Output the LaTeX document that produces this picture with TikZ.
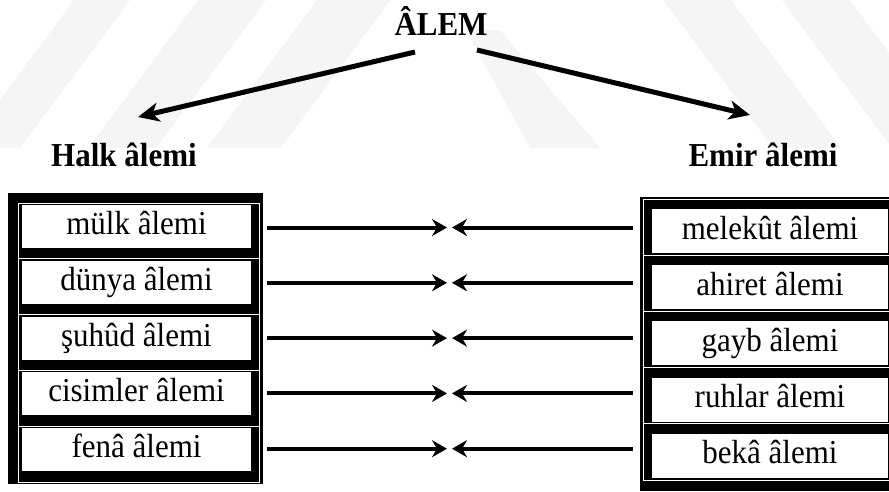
\documentclass[tikz,border=0pt]{standalone}
\usepackage{fontspec}
\setmainfont{Liberation Serif}
\usetikzlibrary{arrows.meta,calc}
\newcommand{\tallsc}[1]{\scalebox{1}[1.08]{#1}}
\begin{document}
\begin{tikzpicture}[x=1pt,y=-1pt,
  cellL/.style={fill=white, inner sep=0pt, minimum width=229pt, minimum height=43pt,
    font=\fontsize{31}{37}\selectfont, text height=23pt, text depth=7pt},
  cellR/.style={cellL, minimum width=236pt, minimum height=44pt},
  head/.style={font=\fontsize{31}{37}\selectfont\bfseries, inner sep=0pt, anchor=base},
  frame/.style={fill=black, inner sep=0pt},
  sepline/.style={draw=white, line width=0.9pt},
  harr/.style={line width=4pt, -{Stealth[length=15pt,width=17pt,inset=5pt]}},
  darr/.style={line width=5pt, -{Stealth[length=21pt,width=19pt,inset=6pt]}},
  wm/.style={fill=black!4, draw=none}]
\useasboundingbox (0,0) rectangle (889,491);
% faint watermark stripes
\fill[wm] (74,0) -- (130,0) -- (20,148) -- (-36,148) -- cycle;
\fill[wm] (198,0) -- (266,0) -- (156,148) -- (88,148) -- cycle;
\fill[wm] (317,0) -- (391,0) -- (281,148) -- (207,148) -- cycle;
\fill[wm] (466,30) -- (500,30) -- (600,148) -- (530,148) -- cycle;
\fill[wm] (663,0) -- (731,0) -- (841,148) -- (773,148) -- cycle;
\fill[wm] (782,0) -- (850,0) -- (960,148) -- (892,148) -- cycle;

% titles
\node[head] (alem) at (441,35) {\tallsc{ÂLEM}};
\node[head] (halk) at (124,166) {\tallsc{Halk âlemi}};
\node[head] (emir) at (763,166) {\tallsc{Emir âlemi}};
\coordinate (as1) at (415,52);
\coordinate (at1) at (138,117);
\coordinate (as2) at (477,50);
\coordinate (at2) at (750,115);
\draw[darr] (as1) -- (at1);
\draw[darr] (as2) -- (at2);

% left frame
\node[frame, minimum width=255pt, minimum height=291pt] (lframe) at (135.5,338.5) {};
\foreach \i in {0,...,4} {
  \draw[sepline] (18,{203+55.8*\i}) rectangle (259,{203+55.8*(\i+1)});
}
\node[cellL] (L1) at (136.5,226.5) {\tallsc{mülk âlemi}};
\node[cellL] (L2) at (136.5,282.3) {\tallsc{dünya âlemi}};
\node[cellL] (L3) at (136.5,338.1) {\tallsc{şuhûd âlemi}};
\node[cellL] (L4) at (136.5,393.9) {\tallsc{cisimler âlemi}};
\node[cellL] (L5) at (136.5,449.7) {\tallsc{fenâ âlemi}};

% right frame
\node[frame, minimum width=249pt, minimum height=294pt] (rframe) at (764.5,344) {};
\foreach \i in {0,...,4} {
  \draw[sepline] (643,{199+56.2*\i}) rectangle (890,{199+56.2*(\i+1)});
}
\node[cellR] (R1) at (770,231) {\tallsc{melekût âlemi}};
\node[cellR] (R2) at (770,287.2) {\tallsc{ahiret âlemi}};
\node[cellR] (R3) at (770,343.4) {\tallsc{gayb âlemi}};
\node[cellR] (R4) at (770,399.6) {\tallsc{ruhlar âlemi}};
\node[cellR] (R5) at (770,455.8) {\tallsc{bekâ âlemi}};

% horizontal arrows
\foreach \i/\y in {1/227.5,2/282.8,3/338.1,4/393.4,5/448.7} {
  \coordinate (ml\i) at (447,\y);
  \coordinate (mr\i) at (452,\y);
  \draw[harr] ($(lframe.east |- ml\i)+(4,0)$) -- (ml\i);
  \draw[harr] ($(rframe.west |- mr\i)+(-7,0)$) -- (mr\i);
}
\end{tikzpicture}
\end{document}
